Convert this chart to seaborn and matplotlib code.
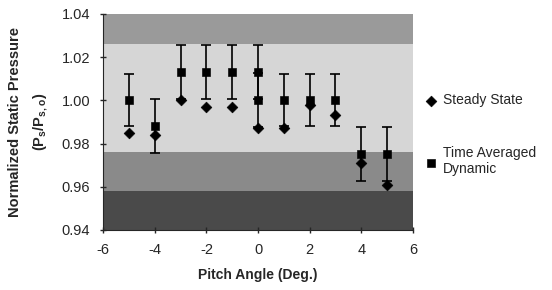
import matplotlib
matplotlib.use('Agg')
import matplotlib.pyplot as plt
import pandas as pd
import seaborn as sns

# values
pitch = [-5, -4, -3, -2, -1, 0, 1, 2, 3, 4, 5]
steady = [0.985, 0.984, 1.000, 0.997, 0.997, 0.987, 0.987, 0.998, 0.993, 0.971, 0.961]
dyn_pitch = [-5, -4, -3, -2, -1, 0, 0, 1, 2, 3, 4, 5]
dynamic = [1.000, 0.988, 1.013, 1.013, 1.013, 1.013, 1.000, 1.000, 1.000, 1.000, 0.975, 0.975]
dyn_err = [0.012, 0.0125, 0.0125, 0.0125, 0.0125, 0.0125, 0.0125, 0.012, 0.012, 0.012, 0.0125, 0.0125]

df_s = pd.DataFrame({'pitch': pitch, 'p': steady})
df_d = pd.DataFrame({'pitch': dyn_pitch, 'p': dynamic, 'err': dyn_err})

sns.set_style('ticks')
plt.rcParams['font.family'] = ['Liberation Sans', 'DejaVu Sans']
plt.rcParams['axes.unicode_minus'] = False

fig = plt.figure(figsize=(5.52, 2.90), dpi=100)
ax = fig.add_axes([0.187, 0.207, 0.561, 0.745])

# scanned grey background tones
ax.set_facecolor('#d6d6d6')
ax.axhspan(1.026, 1.04, color='#9a9a9a', lw=0, zorder=0)
ax.axhspan(0.958, 0.976, color='#8a8a8a', lw=0, zorder=0)
ax.axhspan(0.94, 0.958, color='#4a4a4a', lw=0, zorder=0)

ax.errorbar(df_d['pitch'], df_d['p'], yerr=df_d['err'], fmt='none',
            ecolor='black', elinewidth=1.2, capsize=3.5, capthick=1.2, zorder=2)
sns.scatterplot(data=df_s, x='pitch', y='p', marker='D', s=30, color='black',
                edgecolor='black', ax=ax, label='Steady State', zorder=3)
sns.scatterplot(data=df_d, x='pitch', y='p', marker='s', s=30, color='black',
                edgecolor='black', ax=ax, label='Time Averaged\nDynamic', zorder=3)

ax.set_xlim(-6, 6)
ax.set_ylim(0.94, 1.04)
ax.set_xticks([-6, -4, -2, 0, 2, 4, 6])
ax.set_yticks([0.94, 0.96, 0.98, 1.00, 1.02, 1.04])
ax.set_yticklabels(['0.94', '0.96', '0.98', '1.00', '1.02', '1.04'])
ax.tick_params(direction='inout', length=5, width=1, labelsize=10.5, pad=7)
for s in ['top', 'right']:
    ax.spines[s].set_visible(False)

ax.set_xlabel('Pitch Angle (Deg.)', fontsize=10, fontweight='bold', labelpad=8)
ax.set_ylabel('Normalized Static Pressure\n(P$_\\mathregular{s}$/P$_\\mathregular{s,o}$)',
              fontsize=10.5, fontweight='bold', labelpad=8, linespacing=1.8)

ax.legend(loc='center left', bbox_to_anchor=(0.99, 0.44), frameon=False,
          fontsize=10, handletextpad=0.3, labelspacing=2.8, markerscale=1.0,
          handlelength=1.2)

fig.savefig('out.png', dpi=100)
